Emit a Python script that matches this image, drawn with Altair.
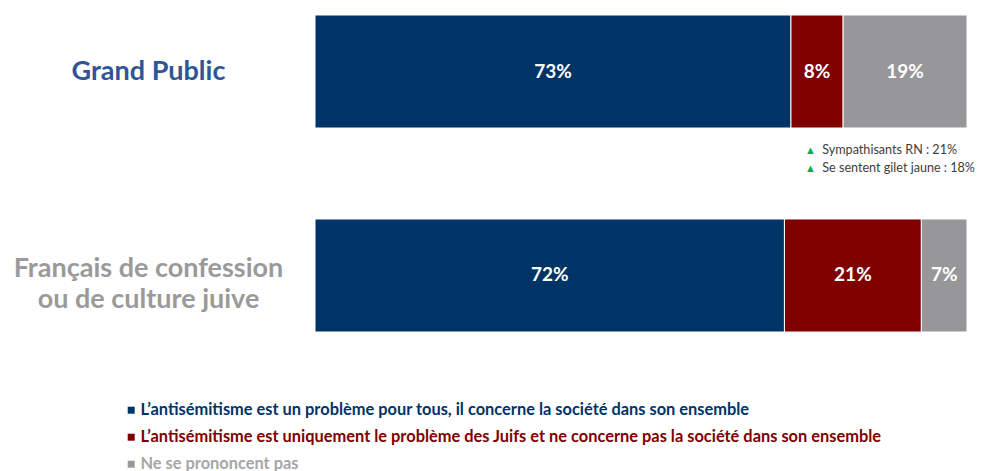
import altair as alt
import pandas as pd

groups = ["Grand Public", "Français de confession|ou de culture juive"]
series = [
    "L’antisémitisme est un problème pour tous, il concerne la société dans son ensemble",
    "L’antisémitisme est uniquement le problème des Juifs et ne concerne pas la société dans son ensemble",
    "Ne se prononcent pas",
]
values_grand_public = [73, 8, 19]
values_juifs = [72, 21, 7]
bar_colors = ["#003366", "#800000", "#97979A"]
annot_labels = ["Sympathisants RN : 21%", "Se sentent gilet jaune : 18%"]

rows = []
for g, vals in zip(groups, [values_grand_public, values_juifs]):
    for i, (s, v) in enumerate(zip(series, vals)):
        rows.append({"group": g, "series": s, "value": v, "order": i, "label": f"{v}%"})
df = pd.DataFrame(rows)

FONT = "Lato"

y_enc = alt.Y(
    "group:N",
    sort=groups,
    scale=alt.Scale(paddingInner=0.446, paddingOuter=0),
    axis=alt.Axis(
        title=None, ticks=False, domain=False, grid=False,
        labelAlign="center", labelPadding=167, labelFontSize=27,
        labelFont=FONT, labelFontWeight="bold", labelLimit=400,
        labelLineHeight=31,
        labelExpr="split(datum.label, '|')",
        labelOffset={"condition": {"test": "datum.value == 'Grand Public'", "value": 0}, "value": -6},
        labelColor={"condition": {"test": "datum.value == 'Grand Public'", "value": "#2F5597"}, "value": "#9A9A9A"},
    ),
)
x_scale = alt.Scale(domain=[0, 100], nice=False, zero=True)

bars = alt.Chart(df).mark_bar(stroke="white", strokeWidth=1).encode(
    y=y_enc,
    x=alt.X("value:Q", stack="zero", scale=x_scale, axis=None),
    color=alt.Color(
        "series:N", sort=series,
        scale=alt.Scale(domain=series, range=bar_colors),
        legend=alt.Legend(
            title=None, orient="none", legendX=-192, legendY=387,
            symbolType="square", symbolSize=49, symbolStrokeWidth=0,
            labelFont=FONT, labelFontSize=16.4, labelFontWeight="bold", labelLimit=1000,
            labelOffset=1, rowPadding=10,
            labelColor={"expr": "datum.value == 'Ne se prononcent pas' ? '#A6A6A6' : (indexof(datum.value, 'uniquement') >= 0 ? '#800000' : '#003366')"},
        ),
    ),
    order=alt.Order("order:Q"),
)

text = alt.Chart(df).transform_window(
    cum="sum(value)", groupby=["group"], sort=[alt.SortField("order")]
).transform_calculate(
    mid="datum.cum - datum.value / 2"
).mark_text(color="white", font=FONT, fontWeight="bold", fontSize=19).encode(
    y=alt.Y("group:N", sort=groups),
    x=alt.X("mid:Q", scale=x_scale),
    text="label:N",
)

annot_df = pd.DataFrame({"txt": ["\n".join(annot_labels)], "tri": ["\n".join(["▲"] * len(annot_labels))]})
annot_text = alt.Chart(annot_df).mark_text(
    align="left", baseline="top", dy=72, lineBreak="\n", lineHeight=18,
    font=FONT, fontSize=12.6, color="#404040",
).encode(x=alt.datum(77.8), y=alt.datum("Grand Public"), text="txt:N")
annot_tri = alt.Chart(annot_df).mark_text(
    align="left", baseline="top", dy=73, lineBreak="\n", lineHeight=18,
    font=FONT, fontSize=11, color="#00B050",
).encode(x=alt.datum(75.15), y=alt.datum("Grand Public"), text="tri:N")

chart = alt.layer(bars, text, annot_text, annot_tri).properties(
    width=652, height=317,
    autosize=alt.AutoSizeParams(type="none"),
    padding={"left": 307, "top": 7, "right": 14, "bottom": 140},
).configure_view(stroke=None)

chart.save("out.html", embed_options={"renderer": "svg", "actions": False})
